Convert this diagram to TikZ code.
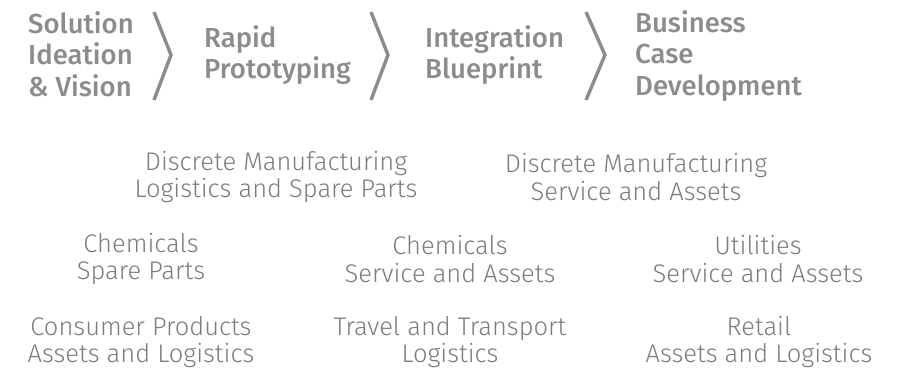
\documentclass[tikz,border=0pt]{standalone}
\usepackage{fontspec}
\setmainfont{Fira Sans}
\newfontfamily\stagefont{Fira Sans Medium}
\newfontfamily\litefont{Fira Sans Light}
\definecolor{stagegray}{HTML}{8C8C8C}
\definecolor{litegray}{HTML}{7C7C7C}

\begin{document}
\begin{tikzpicture}
[
    x=1pt, y=-1pt,
    stage/.style={inner sep=0pt, anchor=west, align=left, text=stagegray,
        font=\stagefont\fontsize{27.5}{31.5}\selectfont},
    chevron/.style={draw=stagegray, line width=3.4pt, line join=miter},
    industry/.style={inner sep=0pt, align=center, text=litegray,
        font=\litefont\fontsize{25.5}{27.5}\selectfont},
]
\useasboundingbox (0,0) rectangle (908,371);
\node [stage] (ideation) at (28,54) {Solution\\Ideation\\\& Vision};
\draw [chevron] (154,12) -- (171,55) -- (154,100);
\node [stage] (prototyping) at (204,55) {Rapid\\Prototyping};
\draw [chevron] (371,12) -- (388,55) -- (371,100);
\node [stage] (blueprint) at (425,55) {Integration\\Blueprint};
\draw [chevron] (586,12) -- (605,55) -- (586,100);
\node [stage] (business) at (635,56) {Business\\Case\\Development};

\node [industry] (dmlogistics) at (276,177) {Discrete Manufacturing\\Logistics and Spare Parts};
\node [industry] (dmservice) at (636,177) {Discrete Manufacturing\\Service and Assets};
\node [industry] (chemparts) at (141,259) {Chemicals\\Spare Parts};
\node [industry] (chemservice) at (450,259) {Chemicals\\Service and Assets};
\node [industry] (utilservice) at (758,259) {Utilities\\Service and Assets};
\node [industry] (consumer) at (141,342) {Consumer Products\\Assets and Logistics};
\node [industry] (travel) at (450,342) {Travel and Transport\\Logistics};
\node [industry] (retail) at (759,342) {Retail\\Assets and Logistics};
\end{tikzpicture}
\end{document}
